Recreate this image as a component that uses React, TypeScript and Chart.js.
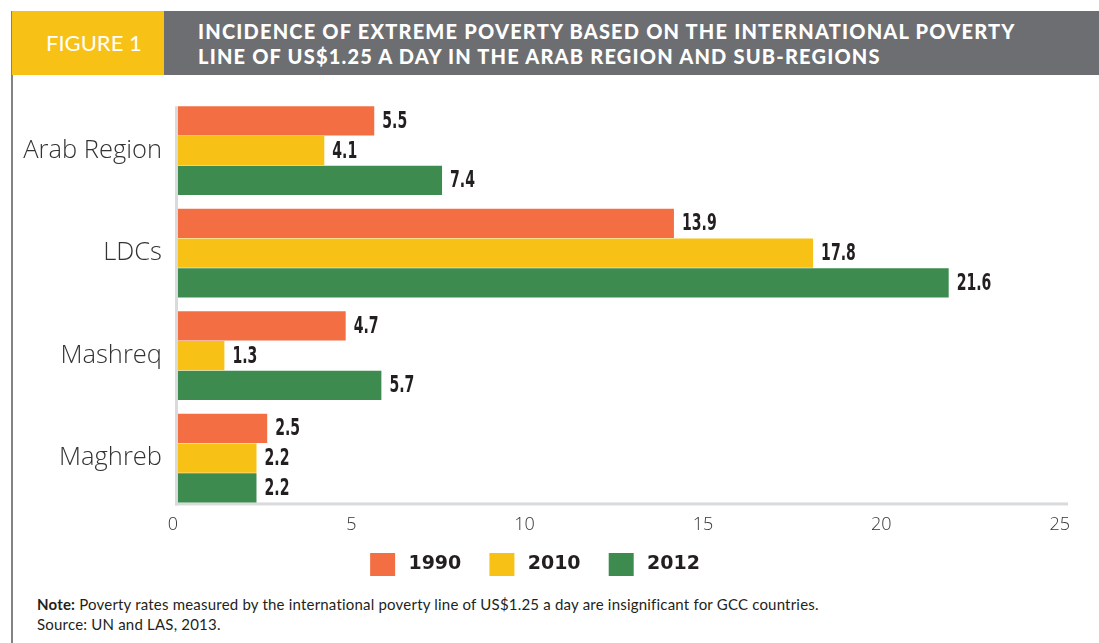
import React, { useEffect, useRef } from "react";
import { Chart, registerables } from "chart.js";

Chart.register(...registerables);

const categories = ["Arab Region", "LDCs", "Mashreq", "Maghreb"];
const seriesNames = ["1990", "2010", "2012"];
const values1990 = [5.5, 13.9, 4.7, 2.5];
const values2010 = [4.1, 17.8, 1.3, 2.2];
const values2012 = [7.4, 21.6, 5.7, 2.2];
const xTickValues = [0, 5, 10, 15, 20, 25];
const seriesColors = ["#F36F43", "#F8C116", "#3D8B4E"];

const titleLines = [
  "INCIDENCE OF EXTREME POVERTY BASED ON THE INTERNATIONAL POVERTY",
  "LINE OF US$1.25 A DAY IN THE ARAB REGION AND SUB-REGIONS",
];

const valueLabelPlugin = {
  id: "valueLabels",
  afterDatasetsDraw(chart: any) {
    const ctx = chart.ctx;
    chart.data.datasets.forEach((ds: any, di: number) => {
      const meta = chart.getDatasetMeta(di);
      meta.data.forEach((el: any, i: number) => {
        ctx.save();
        ctx.font = "bold 23px 'DejaVu Sans Condensed', 'DejaVu Sans', sans-serif";
        ctx.fillStyle = "#231F20";
        ctx.textAlign = "left";
        ctx.textBaseline = "middle";
        ctx.translate(el.x + 8, el.y + 1);
        ctx.scale(0.68, 1);
        ctx.fillText(Number(ds.data[i]).toFixed(1), 0, 0);
        ctx.restore();
      });
    });
  },
};

const axisLinePlugin = {
  id: "axisLines",
  beforeDatasetsDraw(chart: any) {
    const ctx = chart.ctx;
    const xs = chart.scales.x;
    const first = chart.getDatasetMeta(0).data[0];
    const lastMeta = chart.getDatasetMeta(chart.data.datasets.length - 1);
    const last = lastMeta.data[lastMeta.data.length - 1];
    if (!first || !last) return;
    const top = first.y - first.height / 2;
    const bottom = last.y + last.height / 2;
    const x0 = xs.getPixelForValue(xTickValues[0]);
    const x1 = xs.getPixelForValue(xTickValues[xTickValues.length - 1]);
    ctx.save();
    ctx.fillStyle = "#D9DADC";
    ctx.fillRect(x0 - 3, top, 3, bottom - top + 3);
    ctx.fillRect(x0 - 3, bottom, x1 - x0 + 1, 3);
    ctx.restore();
  },
};

function BarChart() {
  const ref = useRef<HTMLCanvasElement>(null);
  useEffect(() => {
    if (!ref.current) return;
    const dataArrays = [values1990, values2010, values2012];
    const chart = new Chart(ref.current, {
      type: "bar",
      data: {
        labels: categories,
        datasets: seriesNames.map((name, i) => ({
          label: name,
          data: dataArrays[i],
          backgroundColor: seriesColors[i],
          borderWidth: 0,
          barPercentage: 0.98,
          categoryPercentage: 0.87,
        })),
      },
      options: {
        indexAxis: "y",
        animation: false,
        responsive: false,
        maintainAspectRatio: false,
        layout: { padding: { top: 9.35, right: 29, bottom: 4, left: 0 } },
        scales: {
          x: {
            type: "linear",
            min: xTickValues[0],
            max: xTickValues[xTickValues.length - 1],
            grid: { display: false, drawTicks: false },
            border: { display: false },
            afterBuildTicks: (s: any) => {
              s.ticks = xTickValues.map((v) => ({ value: v }));
            },
            ticks: {
              padding: 5,
              align: "end",
              color: "#333333",
              font: { family: "'Open Sans'", size: 18, weight: "300" },
            },
          },
          y: {
            type: "category",
            grid: { display: false, drawTicks: false },
            border: { display: false },
            afterFit: (s: any) => {
              s.width = 178;
              s.paddingTop = 0;
              s.paddingBottom = 0;
            },
            ticks: {
              padding: 16,
              color: "#333333",
              font: { family: "'Open Sans'", size: 25.5, weight: "300" },
            },
          },
        },
        plugins: {
          legend: {
            position: "bottom",
            labels: {
              boxWidth: 25,
              boxHeight: 23,
              padding: 12,
              color: "#231F20",
              font: { family: "'DejaVu Sans'", size: 19, weight: "bold" },
              generateLabels: (chart: any) => {
                const items = Chart.defaults.plugins.legend.labels.generateLabels(chart);
                return items.map((item: any, i: number) => ({
                  ...item,
                  text: "\u2009" + item.text + (i < items.length - 1 ? "\u2002 " : ""),
                }));
              },
            },
          },
          tooltip: { enabled: false },
        },
      },
      plugins: [axisLinePlugin, valueLabelPlugin],
    } as any);
    return () => chart.destroy();
  }, []);
  return <canvas ref={ref} width={1099} height={500} style={{ display: "block" }} />;
}

export default function App() {
  return (
    <div
      style={{
        position: "absolute",
        left: 0,
        top: 0,
        width: 1099,
        height: 643,
        background: "#ffffff",
        overflow: "hidden",
        fontFamily: "Lato, sans-serif",
      }}
    >
      <div style={{ position: "absolute", left: 11, top: 11, width: 2, height: 632, background: "#828284" }} />
      <div
        style={{
          position: "absolute",
          left: 12,
          top: 11,
          width: 152,
          height: 64,
          background: "#F8C116",
        }}
      />
      <div
        style={{
          position: "absolute",
          left: 46,
          top: 11,
          height: 64,
          lineHeight: "63px",
          color: "#ffffff",
          fontSize: 22,
          whiteSpace: "nowrap",
        }}
      >
        FIGURE 1
      </div>
      <div style={{ position: "absolute", left: 164, top: 11, width: 935, height: 64, background: "#6D6E71" }} />
      <div
        style={{
          position: "absolute",
          left: 198,
          top: 19,
          color: "#ffffff",
          fontWeight: 900,
          fontSize: 20,
          lineHeight: "25px",
          whiteSpace: "nowrap",
          letterSpacing: 1.2,
        }}
      >
        {titleLines.map((t) => (
          <div key={t}>{t}</div>
        ))}
      </div>
      <div style={{ position: "absolute", left: 0, top: 90 }}>
        <BarChart />
      </div>
      <div
        style={{
          position: "absolute",
          left: 37,
          top: 594,
          fontSize: 15,
          letterSpacing: 0.2,
          lineHeight: "20px",
          color: "#231F20",
          whiteSpace: "nowrap",
        }}
      >
        <div>
          <b>Note:</b> Poverty rates measured by the international poverty line of US$1.25 a day are insignificant for GCC countries.
        </div>
        <div>Source: UN and LAS, 2013.</div>
      </div>
    </div>
  );
}
